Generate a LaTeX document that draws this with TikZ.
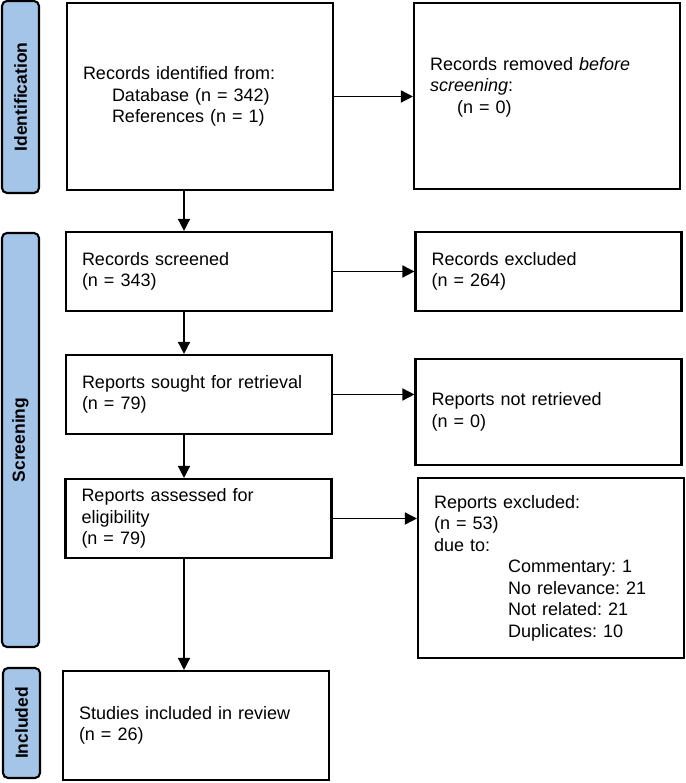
\documentclass[tikz,border=0pt]{standalone}
\usepackage{fontspec}
\setmainfont{Liberation Sans}
\frenchspacing
\usetikzlibrary{arrows.meta}
\definecolor{phaseblue}{RGB}{164,196,232}
\tikzstyle{box}=[draw, line width=2.1pt, text width=234pt,
    inner xsep=16pt, align=left, font=\fontsize{18}{21.5}\selectfont]
\tikzstyle{phase}=[draw, line width=2.1pt, fill=phaseblue,
    rounded corners=5pt, rotate=90, minimum height=37pt, inner sep=0pt,
    font=\fontsize{17.5}{20}\selectfont\bfseries]
\tikzstyle{arr}=[line width=1.5pt, -{Triangle[length=12pt,width=12pt]}]
\def\arrx{184}
\def\ind{\hspace*{29pt}}

\begin{document}
\begin{tikzpicture}[x=1pt, y=1pt]
    \useasboundingbox (0,0) rectangle (685,783);
    % phases
    \node (pid) [phase, minimum width=192pt] at (20.5,686) {Identification};
    \node (pscr) [phase, minimum width=414pt] at (20.5,343) {Screening};
    \node (pinc) [phase, minimum width=110pt] at (21.5,60) {Included};
    % left column
    \node (id1) [box, minimum height=187pt] at (200,686.5)
        {Records identified from:\\ \ind Database (n = 342)\\ \ind References (n = 1)};
    \node (screened) [box, minimum height=79pt] at (199,511.5)
        {Records screened\\ (n = 343)};
    \node (sought) [box, minimum height=79pt] at (199,388.5)
        {Reports sought for retrieval\\ (n = 79)};
    \node (assessed) [box, minimum height=79pt] at (198.5,264.5)
        {Reports assessed for\\ eligibility\\ (n = 79)};
    \node (studies) [box, minimum height=109pt] at (196,57.5)
        {Studies included in review\\ (n = 26)};
    % right column
    \node (removed) [box, minimum height=186pt] at (547,687)
        {Records removed \textit{before}\\ \textit{screening}:\\ \hspace*{27pt}(n = 0)\\ \mbox{}};
    \node (recexcl) [box, minimum height=79pt] at (548.5,511.5)
        {Records excluded\\ (n = 264)};
    \node (notretr) [box, minimum height=106pt] at (548.5,371)
        {Reports not retrieved\\ (n = 0)};
    \node (repexcl) [box, minimum height=180pt] at (551,215)
        {Reports excluded:\\ (n = 53)\\ due to:\\
         \hspace*{74pt}Commentary: 1\\ \hspace*{74pt}No relevance: 21\\
         \hspace*{74pt}Not related: 21\\ \hspace*{74pt}Duplicates: 10};
    % flow down
    \draw[arr] (id1.south -| \arrx,0) -- (screened.north -| \arrx,0);
    \draw[arr] (screened.south -| \arrx,0) -- (sought.north -| \arrx,0);
    \draw[arr] (sought.south -| \arrx,0) -- (assessed.north -| \arrx,0);
    \draw[arr] (assessed.south -| \arrx,0) -- (studies.north -| \arrx,0);
    % flow right
    \draw[arr] (id1.east) -- (id1.east -| removed.west);
    \draw[arr] (screened.east) -- (recexcl.west);
    \draw[arr] (sought.east) -- (sought.east -| notretr.west);
    \draw[arr] (assessed.east) -- (assessed.east -| repexcl.west);
\end{tikzpicture}
\end{document}
